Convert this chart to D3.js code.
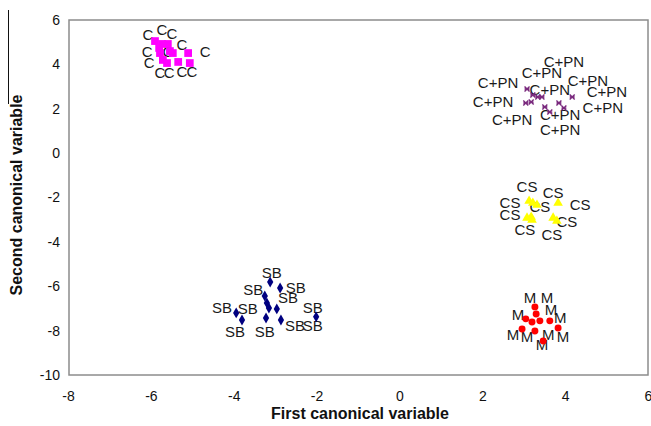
<!DOCTYPE html>
<html><head><meta charset="utf-8">
<script src="https://cdn.jsdelivr.net/npm/d3@7"></script>
<style>body{margin:0;background:#fff;}svg{display:block;font-family:Arial,"Liberation Sans",sans-serif;}</style>
</head><body>
<svg id="chart" width="651" height="426"></svg>
<script>
// tick labels
const xTicks = [-8,-6,-4,-2,0,2,4,6];
const yTicks = [-10,-8,-6,-4,-2,0,2,4,6];

// Group C (magenta squares)
const cX = [-5.90,-5.73,-5.59,-5.80,-5.78,-5.47,-5.54,-5.71,-5.61,-5.34,-5.06,-5.10];
const cY = [5.05,4.92,4.92,4.74,4.51,4.51,4.60,4.20,4.06,4.11,4.06,4.51];
const cLX = [-6.07,-5.73,-5.49,-6.09,-5.59,-5.25,-4.69,-6.04,-5.78,-5.56,-5.25,-5.01];
const cLY = [5.32,5.55,5.37,4.56,4.56,4.87,4.56,4.06,3.61,3.63,3.66,3.66];

// Group C+PN (purple stars)
const cpnX = [3.08,3.22,3.34,3.44,3.05,3.18,3.51,3.63,3.85,3.97,4.17];
const cpnY = [2.89,2.62,2.53,2.53,2.26,2.30,2.08,1.85,2.26,2.03,2.53];
const cpnLX = [3.97,2.38,3.44,4.55,3.63,5.01,2.26,4.91,2.72,3.88,3.88];
const cpnLY = [4.11,3.16,3.61,3.25,2.85,2.76,2.30,2.03,1.49,1.72,1.04];

// Group CS (yellow triangles)
const csX = [3.13,3.22,3.32,3.83,3.08,3.18,3.20,3.71,3.80];
const csY = [-2.16,-2.25,-2.34,-2.25,-2.92,-2.88,-3.01,-2.92,-3.06];
const csLX = [3.08,3.71,2.67,3.39,4.36,2.67,4.04,3.03,3.68];
const csLY = [-1.53,-1.80,-2.25,-2.43,-2.34,-2.79,-3.10,-3.46,-3.69];

// Group SB (navy diamonds)
const sbX = [-3.12,-2.88,-3.25,-3.20,-3.15,-2.96,-3.94,-3.80,-3.22,-2.86,-2.01];
const sbY = [-5.81,-6.08,-6.44,-6.75,-6.98,-7.02,-7.20,-7.52,-7.43,-7.52,-7.38];
const sbLX = [-3.08,-3.53,-2.50,-2.69,-4.28,-3.66,-2.09,-3.97,-3.25,-2.52,-2.09];
const sbLY = [-5.40,-6.17,-6.08,-6.53,-6.98,-7.02,-6.98,-8.06,-8.06,-7.79,-7.79];

// Group M (red circles)
const mX = [3.27,3.30,3.05,3.20,3.39,3.63,2.96,3.27,3.83,3.47];
const mY = [-6.93,-7.25,-7.47,-7.61,-7.56,-7.56,-7.93,-8.02,-7.88,-8.47];
const mLX = [3.15,3.56,2.86,3.66,3.88,2.74,3.08,3.59,3.95,3.44];
const mLY = [-6.53,-6.53,-7.29,-7.07,-7.43,-8.20,-8.29,-8.20,-8.29,-8.65];

const groups = [
  {name:"C", xs:cX, ys:cY, lx:cLX, ly:cLY, sym:d3.symbolSquare, size:60, color:"#ff00ff"},
  {name:"C+PN", xs:cpnX, ys:cpnY, lx:cpnLX, ly:cpnLY, sym:"star", size:0, color:"#7a2a7e"},
  {name:"CS", xs:csX, ys:csY, lx:csLX, ly:csLY, sym:d3.symbolTriangle, size:40, color:"#ffff00"},
  {name:"SB", xs:sbX, ys:sbY, lx:sbLX, ly:sbLY, sym:d3.symbolDiamond, size:34, color:"#000080"},
  {name:"M", xs:mX, ys:mY, lx:mLX, ly:mLY, sym:d3.symbolCircle, size:38, color:"#ff0000"}
];

const svg = d3.select("#chart");
const x = d3.scaleLinear().domain([-8,6]).range([68,648]);
const y = d3.scaleLinear().domain([-10,6]).range([375,20]);

// frame
svg.append("rect").attr("x",x(-8)+1).attr("y",y(6)).attr("width",x(6)-x(-8)-1).attr("height",y(-10)-y(6))
  .attr("fill","none").attr("stroke","#8c8c8c").attr("stroke-width",1.5);

// axes (labels only)
const fmt = d => String(d);
const xAxis = svg.append("g").attr("transform",`translate(0,${y(-10)})`)
  .call(d3.axisBottom(x).tickValues(xTicks).tickSize(0).tickPadding(16).tickFormat(fmt));
xAxis.select(".domain").remove();
xAxis.selectAll("text").attr("font-size",14).attr("fill","#111").attr("font-family","Arial, 'Liberation Sans', sans-serif");

const yAxis = svg.append("g").attr("transform",`translate(${x(-8)},0)`)
  .call(d3.axisLeft(y).tickValues(yTicks).tickSize(0).tickPadding(8).tickFormat(fmt));
yAxis.select(".domain").remove();
yAxis.selectAll("text").attr("font-size",14).attr("fill","#111").attr("font-family","Arial, 'Liberation Sans', sans-serif");

// axis titles
svg.append("text").attr("x",360).attr("y",419).attr("text-anchor","middle")
  .attr("font-size",16).attr("font-weight","bold").attr("fill","#111").text("First canonical variable");
svg.append("text").attr("transform","translate(22,195) rotate(-90)").attr("text-anchor","middle")
  .attr("font-size",16).attr("font-weight","bold").attr("fill","#111").text("Second canonical variable");
svg.append("line").attr("x1",8.5).attr("x2",8.5).attr("y1",10).attr("y2",104).attr("stroke","#111").attr("stroke-width",1);

// labels first, then markers
groups.forEach(g => {
  const pts = g.xs.map((v,i)=>({x:v,y:g.ys[i]}));
  const labs = g.lx.map((v,i)=>({x:v,y:g.ly[i]}));
  const gg = svg.append("g");
  gg.selectAll("text").data(labs).join("text")
    .attr("x",d=>x(d.x)).attr("y",d=>y(d.y)).attr("dy","0.36em")
    .attr("text-anchor","middle").attr("font-size",15).attr("fill","#1a1a1a")
    .text(g.name);
  const mg = svg.append("g");
  if (g.sym === "star") {
    pts.forEach(p => {
      const cx = x(p.x), cy = y(p.y), r = 2.5;
      mg.append("path").attr("d",`M${cx-r},${cy-r}L${cx+r},${cy+r}M${cx-r},${cy+r}L${cx+r},${cy-r}M${cx-r},${cy}L${cx+r},${cy}`)
        .attr("stroke",g.color).attr("stroke-width",1.4).attr("fill","none");
    });
  } else {
    mg.selectAll("path").data(pts).join("path")
      .attr("transform",d=>`translate(${x(d.x)},${y(d.y)})`)
      .attr("d",d3.symbol().type(g.sym).size(g.size))
      .attr("fill",g.color);
  }
});
</script>
</body></html>
